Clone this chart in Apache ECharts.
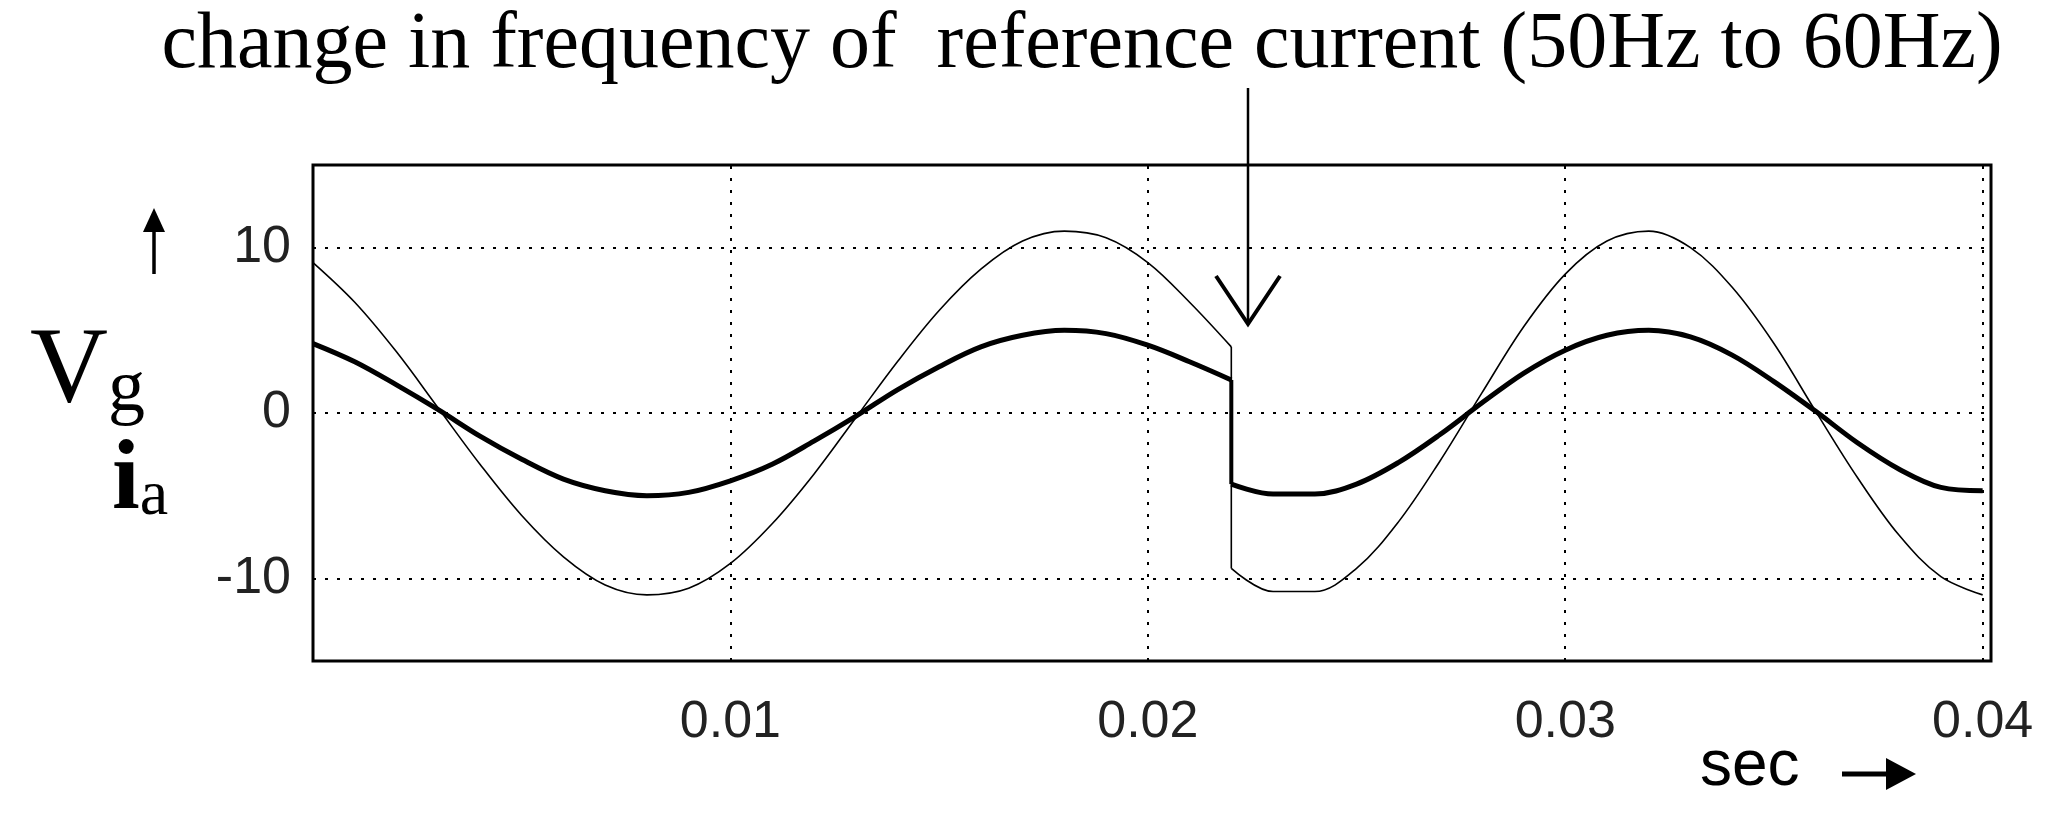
<!DOCTYPE html>
<html><head><meta charset="utf-8">
<script src="https://cdn.jsdelivr.net/npm/echarts@6/dist/echarts.min.js"></script>
<style>html,body{margin:0;padding:0;background:#fff}#c{width:2070px;height:826px}</style>
</head><body><div id="c"></div>
<script>
var t1 = [0,0.001,0.002,0.003,0.004,0.005,0.006,0.007,0.008,0.009,0.010,0.011,0.012,0.013,0.014,0.015,0.016,0.017,0.018,0.019,0.020,0.021,0.022];
var vg1 = [9.1,6.7,3.7,0.3,-3.1,-6.2,-8.7,-10.4,-11.0,-10.6,-9.1,-6.7,-3.7,-0.3,3.1,6.2,8.7,10.4,11.0,10.6,9.1,6.7,4.0];
var ia1 = [4.2,3.1,1.7,0.2,-1.4,-2.8,-4.0,-4.7,-5.0,-4.8,-4.1,-3.1,-1.7,-0.2,1.4,2.8,4.0,4.7,5.0,4.8,4.1,3.1,2.0];
var t2 = [0.022,0.023,0.024,0.025,0.026,0.027,0.028,0.029,0.030,0.031,0.032,0.033,0.034,0.035,0.036,0.037,0.038,0.039,0.040];
var vg2 = [-9.4,-10.8,-10.8,-9.4,-6.6,-2.9,1.2,5.2,8.4,10.4,11.0,10.0,7.6,4.2,0.1,-3.9,-7.4,-9.9,-11.0];
var ia2 = [-4.3,-4.9,-4.9,-4.3,-3.0,-1.3,0.6,2.4,3.8,4.7,5.0,4.6,3.5,1.9,0.1,-1.8,-3.4,-4.5,-4.7];
var yTicks = [-10,0,10];
var xTicks = [0.01,0.02,0.03,0.04];
var title = 'change in frequency of  reference current (50Hz to 60Hz)';

function pairs(t,v){return t.map(function(x,i){return [x,v[i]];});}
var ch = echarts.init(document.getElementById('c'));
var dotted = {color:'#000',type:[3,9],width:2};
var lbl = {fontFamily:'Liberation Sans Narrow, Liberation Sans',fontSize:52,color:'#222'};
var sm = 0.35;
ch.setOption({
  animation:false,
  grid:{left:313,right:79,top:165,bottom:165},
  xAxis:{type:'value',min:0,max:0.0402,interval:0.01,
    axisLine:{show:false},axisTick:{show:false},splitLine:{show:false},
    axisLabel:Object.assign({margin:36,formatter:function(v){return xTicks.some(function(x){return Math.abs(x-v)<1e-9;})?v.toFixed(2):'';}},lbl)},
  yAxis:{type:'value',min:-15,max:15,interval:5,
    axisLine:{show:false},axisTick:{show:false},splitLine:{show:false},
    axisLabel:Object.assign({margin:22,formatter:function(v){return yTicks.indexOf(v)>=0?String(v):'';}},lbl)},
  series:[
    {type:'line',data:pairs(t1,vg1),smooth:sm,showSymbol:false,lineStyle:{color:'#000',width:1.6},
      markLine:{silent:true,symbol:'none',label:{show:false},lineStyle:dotted,
        data:yTicks.map(function(y){return {yAxis:y};}).concat(xTicks.map(function(x){return {xAxis:x};}))}},
    {type:'line',data:pairs(t2,vg2),smooth:sm,showSymbol:false,lineStyle:{color:'#000',width:1.6}},
    {type:'line',data:[[t1[t1.length-1],vg1[vg1.length-1]],[t2[0],vg2[0]]],showSymbol:false,lineStyle:{color:'#000',width:1.6}},
    {type:'line',data:pairs(t1,ia1),smooth:sm,showSymbol:false,lineStyle:{color:'#000',width:5}},
    {type:'line',data:pairs(t2,ia2),smooth:sm,showSymbol:false,lineStyle:{color:'#000',width:5}},
    {type:'line',data:[[t1[t1.length-1],ia1[ia1.length-1]],[t2[0],ia2[0]]],showSymbol:false,lineStyle:{color:'#000',width:4}}
  ],
  graphic:[
    {type:'rect',shape:{x:313,y:165,width:1678,height:496},style:{fill:'none',stroke:'#000',lineWidth:3},z:10},
    {type:'text',x:1082,y:6,style:{text:title,font:'80px "Liberation Serif"',fill:'#000',align:'center',verticalAlign:'top'}},
    {type:'line',shape:{x1:1248,y1:88,x2:1248,y2:322},style:{stroke:'#000',lineWidth:2.5},z:11},
    {type:'polyline',shape:{points:[[1216,276],[1248,324],[1280,276]]},style:{stroke:'#000',lineWidth:4,fill:'none'},z:11},
    {type:'line',shape:{x1:154,y1:274,x2:154,y2:218},style:{stroke:'#000',lineWidth:3.5}},
    {type:'polygon',shape:{points:[[143,232],[154,208],[165,232]]},style:{fill:'#000'}},
    {type:'text',x:30,y:318,style:{text:'{v|V}{g|g}',rich:{v:{font:'108px "Liberation Serif"',fill:'#000'},g:{font:'74px "Liberation Serif"',fill:'#000',padding:[36,0,0,0]}}}},
    {type:'text',x:112,y:432,style:{text:'{i|i}{a|a}',rich:{i:{font:'bold 100px "Liberation Serif"',fill:'#000'},a:{font:'64px "Liberation Serif"',fill:'#000',padding:[30,0,0,0]}}}},
    {type:'text',x:1700,y:735,style:{text:'sec',font:'64px "Liberation Sans"',fill:'#000'}},
    {type:'line',shape:{x1:1842,y1:774,x2:1905,y2:774},style:{stroke:'#000',lineWidth:5}},
    {type:'polygon',shape:{points:[[1886,758],[1916,774],[1886,790]]},style:{fill:'#000'}}
  ]
});
</script></body></html>
